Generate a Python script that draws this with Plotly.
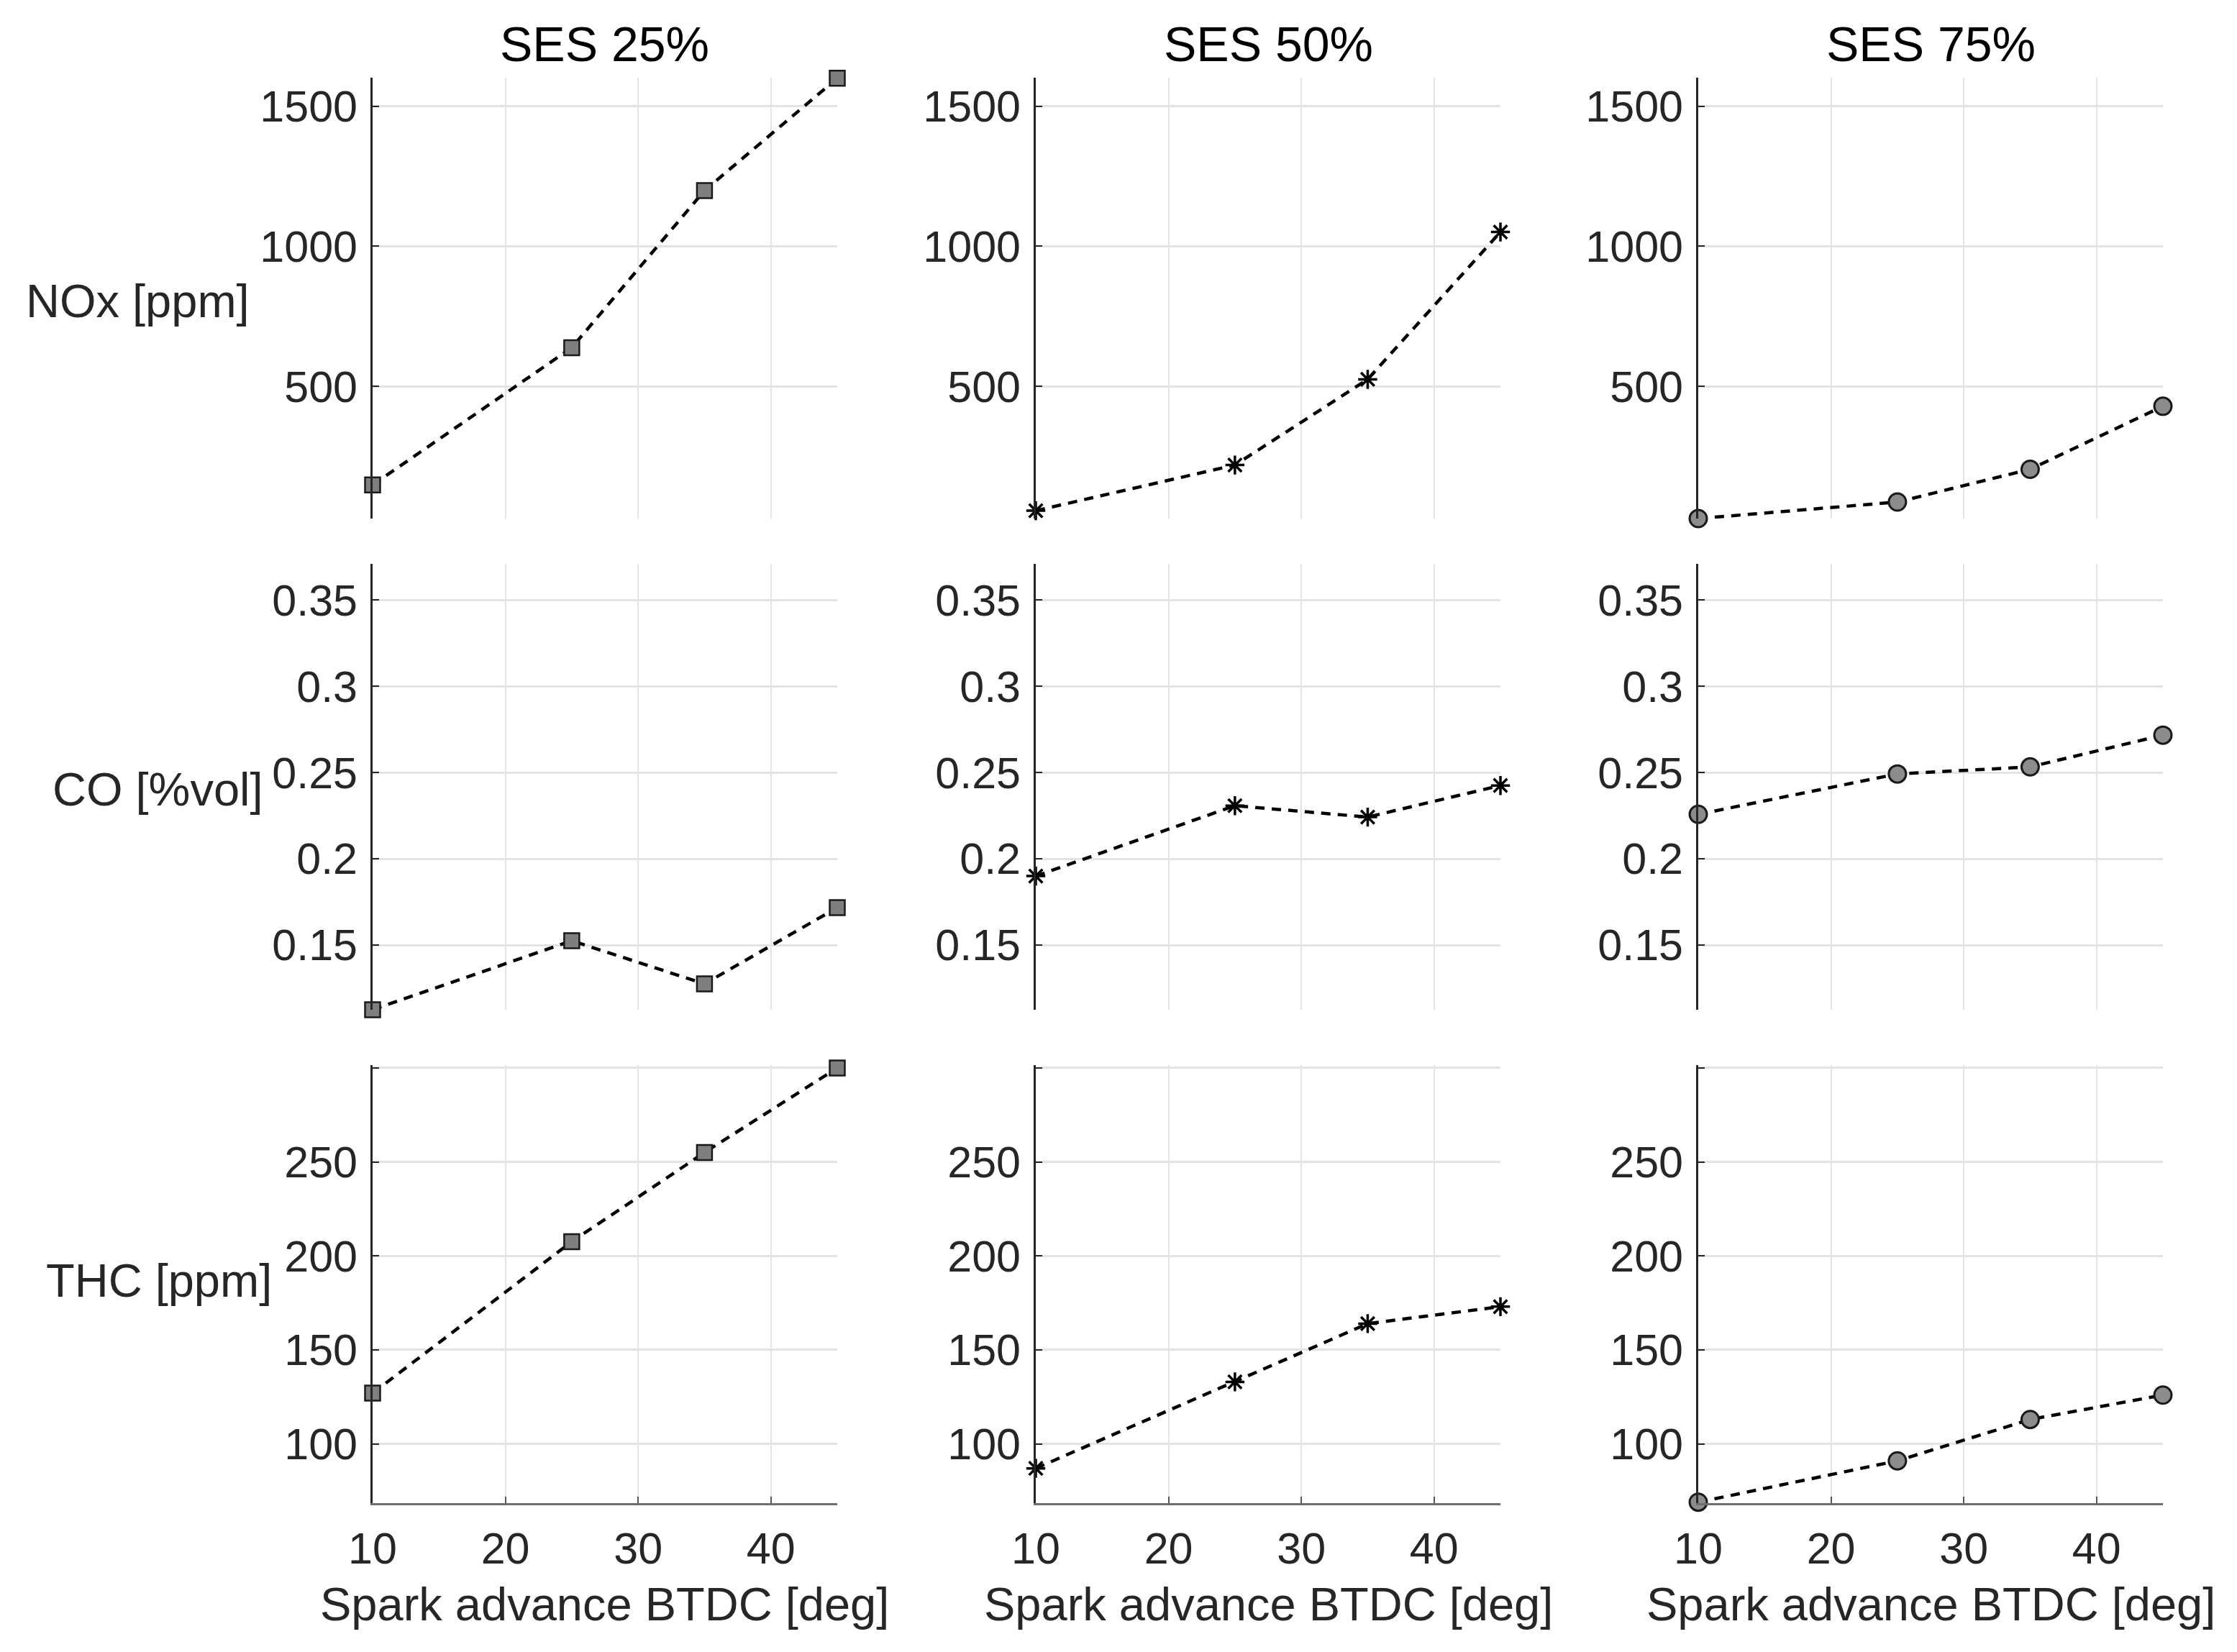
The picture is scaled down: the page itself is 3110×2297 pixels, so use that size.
import plotly.graph_objects as go

spark = [10, 25, 35, 45]
columns = ["SES 25%", "SES 50%", "SES 75%"]
row_labels = ["NOx [ppm]", "CO [%vol]", "THC [ppm]"]

nox_25 = [148, 638, 1199, 1600]
nox_50 = [56, 219, 525, 1051]
nox_75 = [28, 87, 204, 429]

co_25 = [0.1125, 0.1525, 0.1275, 0.1717]
co_50 = [0.190, 0.2308, 0.2242, 0.2425]
co_75 = [0.2258, 0.2492, 0.2533, 0.2717]

thc_25 = [127, 207.6, 255, 300]
thc_50 = [87, 133, 164, 173]
thc_75 = [69, 91, 113, 126]

x_ticks = [10, 20, 30, 40]
nox_ticks = [500, 1000, 1500]
co_ticks = [0.15, 0.2, 0.25, 0.3, 0.35]
co_tick_text = ["0.15", "0.2", "0.25", "0.3", "0.35"]
thc_ticks = [100, 150, 200, 250, 300]
thc_tick_text = ["100", "150", "200", "250", ""]

data = [[nox_25, nox_50, nox_75], [co_25, co_50, co_75], [thc_25, thc_50, thc_75]]
y_ranges = [[28, 1602], [0.1125, 0.371], [68.5, 301.5]]
y_tickvals = [nox_ticks, co_ticks, thc_ticks]
y_ticktext = [[str(v) for v in nox_ticks], co_tick_text, thc_tick_text]

W, H = 3110, 2297
col_px = [(510, 1156), (1432, 2078), (2353, 2999)]
row_px = [(100, 713), (776, 1396), (1473, 2082)]

FONT = "Liberation Sans"
TXT = "#262626"
GRID = "#e3e3e3"

markers = [
    dict(symbol="square", size=21, color="#7f7f7f", line=dict(color="#1a1a1a", width=2.5)),
    dict(symbol="asterisk-open", size=22, color="#000000", line=dict(color="#000000", width=3.5)),
    dict(symbol="circle", size=24, color="#8c8c8c", line=dict(color="#1a1a1a", width=3)),
]

fig = go.Figure()
layout = dict(
    template="none",
    width=W, height=H, margin=dict(l=0, r=0, t=0, b=0, pad=0),
    paper_bgcolor="white", plot_bgcolor="white", showlegend=False,
    font=dict(family=FONT, color=TXT),
)
annotations = []

for r in range(3):
    for c in range(3):
        k = r * 3 + c + 1
        xs = "" if k == 1 else str(k)
        fig.add_trace(go.Scatter(
            x=spark, y=data[r][c], mode="lines+markers",
            xaxis="x" + xs, yaxis="y" + xs, cliponaxis=False,
            line=dict(color="black", width=4.5, dash="13px,10px"),
            marker=markers[c],
        ))
        x0, x1 = col_px[c]
        y0, y1 = row_px[r]
        layout["xaxis" + xs] = dict(
            domain=[x0 / W, x1 / W], range=[10, 45], anchor="y" + xs, automargin=False,
            tickvals=x_ticks, showgrid=True, gridcolor=GRID, gridwidth=2,
            zeroline=False, showticklabels=(r == 2),
            ticks="inside" if r == 2 else "", ticklen=9, tickwidth=2, tickcolor="#555555",
            showline=(r == 2), linecolor="#6e6e6e", linewidth=3,
            tickfont=dict(size=61, family=FONT, color=TXT),
            ticklabelstandoff=8,
        )
        layout["yaxis" + xs] = dict(
            domain=[1 - y1 / H, 1 - y0 / H], range=y_ranges[r], anchor="x" + xs, automargin=False,
            tickvals=y_tickvals[r], ticktext=y_ticktext[r],
            showgrid=True, gridcolor=GRID, gridwidth=2.5, zeroline=False,
            ticks="inside", ticklen=9, tickwidth=2, tickcolor=TXT,
            showline=True, linecolor=TXT, linewidth=2.5,
            tickfont=dict(size=61, family=FONT, color=TXT),
            ticklabelstandoff=6,
        )

for c in range(3):
    x0, x1 = col_px[c]
    xc = (x0 + x1) / 2 / W
    annotations.append(dict(text=columns[c], x=xc, y=1 - 53 / H, xref="paper", yref="paper",
                            xanchor="center", yanchor="middle", showarrow=False,
                            font=dict(size=68, family=FONT, color="black")))
    annotations.append(dict(text="Spark advance BTDC [deg]", x=xc, y=1 - 2222 / H,
                            xref="paper", yref="paper", xanchor="center", yanchor="middle",
                            showarrow=False, font=dict(size=65, family=FONT, color=TXT)))

label_pos = [(341, 410), (360, 1089), (372, 1772)]
for r in range(3):
    xr, yc = label_pos[r]
    annotations.append(dict(text=row_labels[r], x=xr / W, y=1 - yc / H, xref="paper", yref="paper",
                            xanchor="right", yanchor="middle", showarrow=False,
                            font=dict(size=65, family=FONT, color=TXT)))

layout["annotations"] = annotations
fig.update_layout(**layout)
fig.write_html("out.html")
